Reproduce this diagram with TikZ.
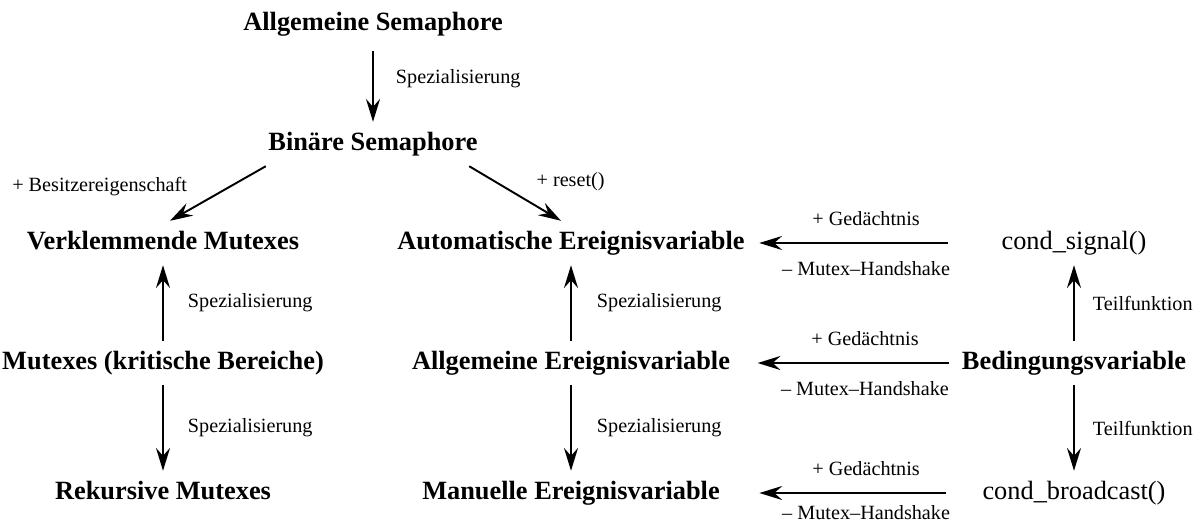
\documentclass[tikz,border=0pt]{standalone}
\usepackage{fontspec}
\setmainfont{Liberation Serif}
\usetikzlibrary{arrows.meta}
\begin{document}
\begin{tikzpicture}[x=0.02cm,y=-0.02cm,
  begriff/.style={font=\fontsize{15}{18}\selectfont\bfseries,inner xsep=7pt,inner ysep=5.7pt,text height=10.5pt,text depth=3pt},
  fkt/.style={begriff,font=\fontsize{15}{18}\selectfont},
  pfeil/.style={line width=1.1pt,-{Stealth[length=13pt,width=8pt,inset=4.5pt]}},
  anm/.style={font=\fontsize{11.5}{13}\selectfont,inner sep=0pt}]
\useasboundingbox (0,0) rectangle (1196,524);
\node[begriff] (allgsem) at (373,24) {Allgemeine Semaphore};
\node[begriff] (binsem) at (373,144) {Binäre Semaphore};
\node[begriff] (verkl) at (163,243) {Verklemmende Mutexes};
\node[begriff] (autoev) at (571,243) {Automatische Ereignisvariable};
\node[fkt] (csig) at (1074,243) {cond\_signal()};
\node[begriff] (mutex) at (163,363) {Mutexes (kritische Bereiche)};
\node[begriff] (allgev) at (571,363) {Allgemeine Ereignisvariable};
\node[begriff] (bedvar) at (1074,363) {Bedingungsvariable};
\node[begriff] (rekmut) at (163,493) {Rekursive Mutexes};
\node[begriff] (manev) at (571,493) {Manuelle Ereignisvariable};
\node[fkt] (cbcast) at (1074,493) {cond\_broadcast()};
% Semaphoren
\draw[pfeil,shorten <=3pt] (allgsem) -- (binsem)
  node[anm,midway,right=0.44cm,yshift=0.1cm] {Spezialisierung};
\draw[pfeil] ([xshift=0.2cm]binsem.south west) -- ([xshift=0.14cm]verkl.north)
  node[anm,midway,anchor=east,xshift=-0.6cm,yshift=0.14cm] {+ Besitzereigenschaft};
\draw[pfeil] ([xshift=-0.42cm]binsem.south east) -- ([xshift=-0.2cm]autoev.north)
  node[anm,midway,anchor=west,xshift=0.41cm,yshift=0.24cm] {+ reset()};
% Mutexe
\draw[pfeil] (mutex) -- (verkl)
  node[anm,midway,right=0.48cm] {Spezialisierung};
\draw[pfeil] (mutex) -- (rekmut)
  node[anm,midway,right=0.48cm] {Spezialisierung};
% Ereignisvariablen
\draw[pfeil] (allgev) -- (autoev)
  node[anm,midway,right=0.5cm] {Spezialisierung};
\draw[pfeil] (allgev) -- (manev)
  node[anm,midway,right=0.5cm] {Spezialisierung};
% Bedingungsvariable
\draw[pfeil] (bedvar) -- (csig)
  node[anm,midway,right=0.36cm] {Teilfunktion};
\draw[pfeil] (bedvar) -- (cbcast)
  node[anm,midway,right=0.36cm] {Teilfunktion};
\draw[pfeil,shorten <=0.82cm,shorten >=0.04cm] (csig) -- (autoev)
  node[anm,midway,above=0.32cm,xshift=-0.14cm] {+ Gedächtnis}
  node[anm,midway,below=0.36cm,xshift=-0.14cm] {– Mutex–Handshake};
\draw[pfeil,shorten >=0.3cm] (bedvar) -- (allgev)
  node[anm,midway,above=0.32cm,xshift=0.38cm] {+ Gedächtnis}
  node[anm,midway,below=0.36cm,xshift=0.38cm] {– Mutex–Handshake};
\draw[pfeil,shorten <=0.48cm,shorten >=0.54cm] (cbcast) -- (manev)
  node[anm,midway,above=0.32cm,xshift=0.3cm] {+ Gedächtnis}
  node[anm,midway,below=0.24cm,xshift=0.3cm] {– Mutex–Handshake};
\end{tikzpicture}
\end{document}
